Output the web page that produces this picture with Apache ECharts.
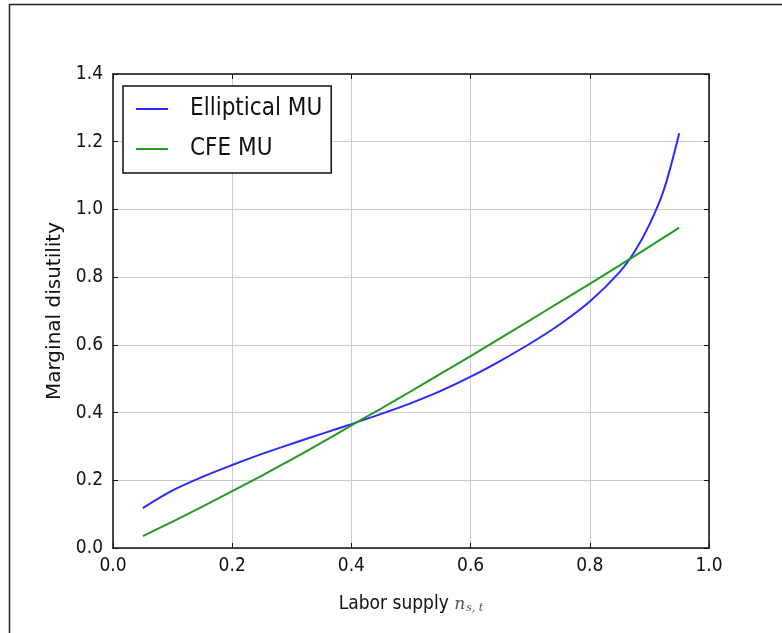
<!DOCTYPE html>
<html>
<head>
<meta charset="utf-8">
<script src="https://cdn.jsdelivr.net/npm/echarts@6/dist/echarts.min.js"></script>
<style>
html,body{margin:0;padding:0;background:#fff;}
#chart{width:782px;height:633px;}
</style>
</head>
<body>
<div id="chart"></div>
<script>
// Labor supply values (x)
var laborSupply = [0.05, 0.10, 0.15, 0.20, 0.25, 0.30, 0.35, 0.40, 0.45, 0.50, 0.55, 0.60, 0.65, 0.70, 0.75, 0.80, 0.85, 0.875, 0.90, 0.925, 0.95];
// Elliptical marginal utility of labor
var ellipticalMU = [0.118, 0.170, 0.210, 0.245, 0.278, 0.308, 0.337, 0.366, 0.396, 0.428, 0.464, 0.506, 0.553, 0.604, 0.661, 0.728, 0.815, 0.875, 0.955, 1.062, 1.225];
// CFE marginal utility of labor
var cfeMU = [0.035, 0.078, 0.122, 0.168, 0.214, 0.262, 0.311, 0.362, 0.412, 0.463, 0.515, 0.567, 0.620, 0.673, 0.727, 0.780, 0.835, 0.862, 0.890, 0.918, 0.946];
var seriesNames = ['Elliptical MU', 'CFE MU'];
var xTicks = [0.0, 0.2, 0.4, 0.6, 0.8, 1.0];
var yTicks = [0.0, 0.2, 0.4, 0.6, 0.8, 1.0, 1.2, 1.4];

function pairs(xs, ys){ return xs.map(function(x,i){ return [x, ys[i]]; }); }

var condFont = "'DejaVu Sans Condensed', 'Liberation Sans Narrow', 'DejaVu Sans', sans-serif";
var axisLineStyle = {color:'#111', width:1.5};

var chart = echarts.init(document.getElementById('chart'), null, {renderer:'canvas'});
var option = {
  backgroundColor:'#fff',
  animation:false,
  graphic:[{
    type:'rect', left:7, top:2, shape:{x:0,y:0,width:800,height:700},
    style:{fill:'none', stroke:'#222', lineWidth:1.5}, z:-1
  }],
  grid:{left:113, right:73, top:74, bottom:85, containLabel:false},
  legend:{
    orient:'vertical', left:123, top:86,
    backgroundColor:'#fff', borderColor:'#111', borderWidth:1.5, borderRadius:0,
    padding:[10, 9, 11, 13],
    icon:'rect', itemWidth:32, itemHeight:2, itemGap:14,
    textStyle:{fontFamily:condFont, fontSize:24, color:'#111', padding:[0,0,0,17], lineHeight:26},
    data:seriesNames
  },
  xAxis:[{
    type:'value', min:0, max:1, interval:0.2,
    name:'Labor supply {n|n}{sub|s, t}', nameLocation:'middle', nameGap:47,
    nameTextStyle:{fontFamily:condFont, fontSize:19, color:'#111',
      rich:{n:{fontFamily:'DejaVu Serif', fontStyle:'italic', fontSize:17, color:'#555'},
            sub:{fontFamily:'DejaVu Serif', fontStyle:'italic', fontSize:11, color:'#555', verticalAlign:'bottom', padding:[8,0,0,1]}}},
    axisLine:{show:true, onZero:false, lineStyle:axisLineStyle},
    axisTick:{show:true, inside:true, length:5, lineStyle:{color:'#111', width:1}},
    axisLabel:{fontFamily:condFont, fontSize:19, color:'#111', margin:9,
      formatter:function(v){ return v.toFixed(1); }},
    splitLine:{show:true, lineStyle:{color:'#cbcbcb', width:1}}
  },{
    type:'value', position:'top', min:0, max:1, interval:0.2,
    axisLine:{show:true, onZero:false, lineStyle:axisLineStyle},
    axisTick:{show:true, inside:true, length:5, lineStyle:{color:'#111', width:1}},
    axisLabel:{show:false}, splitLine:{show:false}
  }],
  yAxis:[{
    type:'value', min:0, max:1.4, interval:0.2,
    name:'Marginal disutility', nameLocation:'middle', nameGap:47,
    nameTextStyle:{fontFamily:"'DejaVu Sans', sans-serif", fontSize:20, color:'#111'},
    axisLine:{show:true, onZero:false, lineStyle:axisLineStyle},
    axisTick:{show:true, inside:true, length:5, lineStyle:{color:'#111', width:1}},
    axisLabel:{fontFamily:condFont, fontSize:19, color:'#111', margin:10,
      formatter:function(v){ return v.toFixed(1); }},
    splitLine:{show:true, lineStyle:{color:'#cbcbcb', width:1}}
  },{
    type:'value', position:'right', min:0, max:1.4, interval:0.2,
    axisLine:{show:true, onZero:false, lineStyle:axisLineStyle},
    axisTick:{show:true, inside:true, length:5, lineStyle:{color:'#111', width:1}},
    axisLabel:{show:false}, splitLine:{show:false}
  }],
  series:[{
    name:seriesNames[0], type:'line', data:pairs(laborSupply, ellipticalMU),
    smooth:0.3, symbol:'none', color:'#2a2aff', lineStyle:{color:'#2a2aff', width:2}
  },{
    name:seriesNames[1], type:'line', data:pairs(laborSupply, cfeMU),
    smooth:0.3, symbol:'none', color:'#229a22', lineStyle:{color:'#229a22', width:2}
  }]
};
chart.setOption(option);
</script>
</body>
</html>
